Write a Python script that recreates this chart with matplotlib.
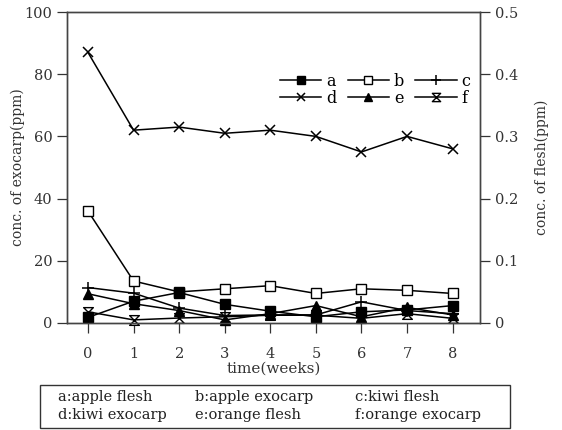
import matplotlib
matplotlib.use("Agg")
import matplotlib.pyplot as plt
from matplotlib.path import Path
from matplotlib.patches import Rectangle

plt.rcParams['font.family'] = ['DejaVu Serif']

weeks = [0, 1, 2, 3, 4, 5, 6, 7, 8]
# exocarp series (left axis, ppm)
apple_exocarp = [36, 13.5, 10, 11, 12, 9.5, 11, 10.5, 9.5]
kiwi_exocarp = [87, 62, 63, 61, 62, 60, 55, 60, 56]
orange_exocarp = [3.6, 1.0, 1.6, 2.0, 2.5, 2.5, 1.5, 3.0, 1.5]
# flesh series (right axis, ppm)
apple_flesh = [0.009, 0.035, 0.049, 0.030, 0.019, 0.010, 0.018, 0.021, 0.028]
kiwi_flesh = [0.057, 0.048, 0.024, 0.012, 0.013, 0.013, 0.034, 0.020, 0.015]
orange_flesh = [0.047, 0.031, 0.020, 0.005, 0.015, 0.028, 0.010, 0.025, 0.013]

left_ticks = [0, 20, 40, 60, 80, 100]
right_ticks = [0, 0.1, 0.2, 0.3, 0.4, 0.5]
right_ticklabels = ["0", "0.1", "0.2", "0.3", "0.4", "0.5"]

hourglass = Path([(-1, 1), (1, 1), (-1, -1), (1, -1), (-1, 1)],
                 [Path.MOVETO, Path.LINETO, Path.LINETO, Path.LINETO, Path.CLOSEPOLY])

fig = plt.figure(figsize=(5.62, 4.30), dpi=100)
ax = fig.add_axes([67/562, 1-323/430, (480-67)/562, (323-12)/430])
ax2 = ax.twinx()

lw = 1.1
kw = dict(color='black', lw=lw, clip_on=False)
hb, = ax.plot(weeks, apple_exocarp, marker='s', ms=6.5, mfc='white', mec='black', mew=1.0, **kw)
hd, = ax.plot(weeks, kiwi_exocarp, marker='x', ms=7, mew=1.1, **kw)
hf, = ax.plot(weeks, orange_exocarp, marker=hourglass, ms=7, mfc='white', mec='black', mew=1.0, **kw)
ha, = ax2.plot(weeks, apple_flesh, marker='s', ms=6.5, mfc='black', mec='black', **kw)
hc, = ax2.plot(weeks, kiwi_flesh, marker='+', ms=9, mew=1.1, **kw)
he, = ax2.plot(weeks, orange_flesh, marker='^', ms=7, mfc='black', mec='black', **kw)

ax.set_xlim(-0.46, 8.6)
ax.set_ylim(0, 100)
ax2.set_ylim(0, 0.5)
ax.set_xticks(weeks)
ax.set_yticks(left_ticks)
ax2.set_yticks(right_ticks)
ax2.set_yticklabels(right_ticklabels)
for a in (ax, ax2):
    a.tick_params(direction='out', length=7, width=0.9, labelsize=10.5, colors='#333333')
    for s in a.spines.values():
        s.set_linewidth(1.0)
        s.set_color('#444444')
ax.tick_params(axis='x', pad=10)

ax.set_ylabel("conc. of exocarp(ppm)", fontsize=10, color='#333333', labelpad=0)
ax2.set_ylabel("conc. of flesh(ppm)", fontsize=10, color='#333333', rotation=90, labelpad=12)
ax.set_xlabel("time(weeks)", fontsize=11, color='#333333', labelpad=1)

leg = ax2.legend([ha, hd, hb, he, hc, hf], ['a', 'd', 'b', 'e', 'c', 'f'],
                 ncol=3, loc='upper left', bbox_to_anchor=(0.5, 0.825),
                 frameon=False, fontsize=11.5, handlelength=2.6, handletextpad=0.3,
                 columnspacing=0.7, labelspacing=0.0, borderaxespad=0, markerscale=0.85)

fig.patches.append(Rectangle((40/562, 1-428/430), (510-40)/562, (428-385)/430,
                             transform=fig.transFigure, fill=False,
                             edgecolor='#333333', lw=1.0))
rows = [["a:apple flesh", "b:apple exocarp", "c:kiwi flesh"],
        ["d:kiwi exocarp", "e:orange flesh", "f:orange exocarp"]]
xs = [58/562, 195/562, 355/562]
ys = [1-397/430, 1-415/430]
for r, y in zip(rows, ys):
    for t, x in zip(r, xs):
        fig.text(x, y, t, fontsize=10.5, va='center', ha='left', color='#222222')

fig.savefig("out.png", dpi=100)
